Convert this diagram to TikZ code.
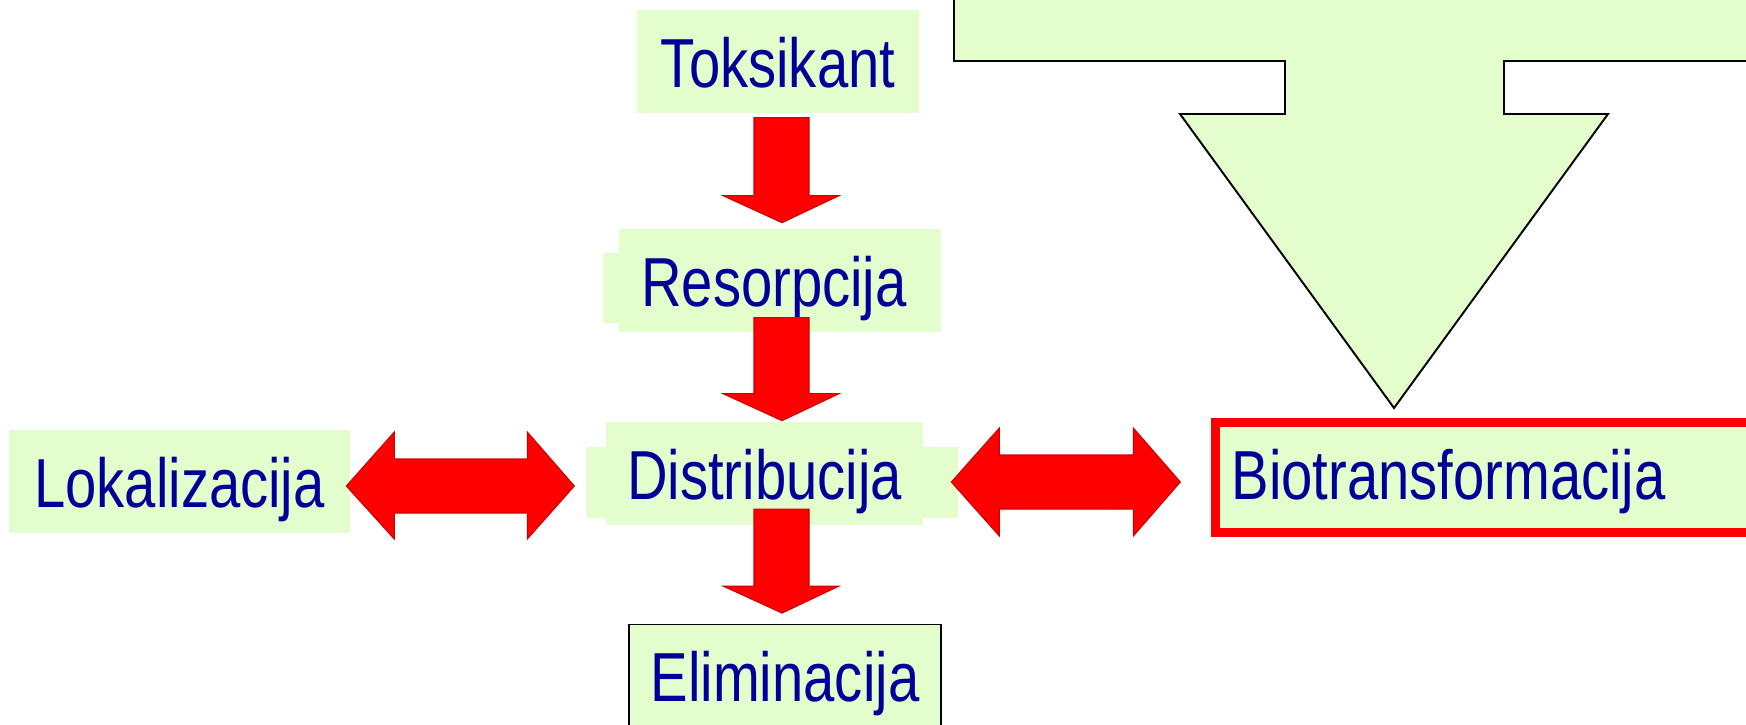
\documentclass[tikz,border=0pt]{standalone}
\usepackage{fontspec}
\newfontfamily\narrowfont[FakeStretch=0.81]{Liberation Sans}
\usepackage{tikz}
\usetikzlibrary{calc,positioning}
\definecolor{boxgreen}{RGB}{227,253,204}
\definecolor{textblue}{RGB}{0,0,153}
\definecolor{arrowred}{RGB}{255,0,0}
\definecolor{arrowedge}{RGB}{204,0,0}
\tikzset{
  stage/.style={rectangle, fill=boxgreen, text=textblue, inner sep=0pt,
    minimum height=2.06cm, text height=1.04cm, text depth=0cm,
    font={\narrowfont\fontsize{39.5}{42}\selectfont}},
  backpad/.style={fill=boxgreen},
  bigarrow/.style={fill=arrowred, draw=arrowedge, line width=0.6pt, line join=miter},
  callout/.style={fill=boxgreen, draw=black, line width=1.1pt, line join=miter}}

\begin{document}
\begin{tikzpicture}[x=0.02cm, y=-0.02cm]

\useasboundingbox (0,0) rectangle (1746,724);
\clip (0,0) rectangle (1746,724);

%CALLOUT
\draw[callout] (954,-10) -- (954,61) -- (1285,61) -- (1285,114) -- (1180,114)
  -- (1394,408) -- (1608,114) -- (1504,114) -- (1504,61) -- (1760,61)
  -- (1760,-10) -- cycle;

%TOKSIKANT
\node[stage, minimum width=5.64cm](tok) at (778,61.5) {Toksikant};

%RESORPCIJA
\fill[backpad] (603,253) rectangle (930,323);
\node[stage, minimum width=6.44cm](res) at (780,280.5) {\hspace*{-0.24cm}Resorpcija};

%DISTRIBUCIJA
\fill[backpad] (586,447) rectangle (958,518);
\node[stage, minimum width=6.34cm](dis) at (764.5,473.5) {Distribucija};

%LOKALIZACIJA
\node[stage, minimum width=6.82cm](lok) at (179.5,481.5) {Lokalizacija};

%ELIMINACIJA
\node[stage, draw=black, line width=1.1pt,
minimum width=6.24cm, minimum height=2.02cm
](eli) at (785,675) {Eliminacija};

%BIOTRANSFORMACIJA
\node[stage, draw=arrowred, line width=0.18cm, anchor=west,
inner xsep=0.33cm, text width=11.2cm, align=left,
minimum height=2.2cm, text height=0.86cm
](bio) at (1210.5,477.5) {Biotransformacija};

%STRELICE DOLE
\draw[bigarrow] ($(res.north)+(2,-6)$) -- ++(-59,-27) -- ++(31,0) -- ++(0,-78)
  -- ++(55,0) -- ++(0,78) -- ++(30,0) -- cycle;

\draw[bigarrow] ($(dis.north)+(17.5,-1)$) -- ++(-59,-27) -- ++(31,0) -- ++(0,-76)
  -- ++(55,0) -- ++(0,76) -- ++(30,0) -- cycle;

\draw[bigarrow] ($(eli.north)+(-3,-10.5)$) -- ++(-59,-27) -- ++(31,0) -- ++(0,-77)
  -- ++(55,0) -- ++(0,77) -- ++(30,0) -- cycle;

%STRELICE LEVO-DESNO
\draw[bigarrow] ($(lok.east)+(-4,4.5)$) -- ++(48,-54) -- ++(0,27) -- ++(133,0)
  -- ++(0,-27) -- ++(47,54) -- ++(-47,53) -- ++(0,-26) -- ++(-133,0)
  -- ++(0,26) -- cycle;

\draw[bigarrow] ($(dis.east)+(28,8.5)$) -- ++(48,-54) -- ++(0,27) -- ++(134,0)
  -- ++(0,-27) -- ++(47,54) -- ++(-47,54) -- ++(0,-27) -- ++(-134,0)
  -- ++(0,27) -- cycle;

\end{tikzpicture}
\end{document}
